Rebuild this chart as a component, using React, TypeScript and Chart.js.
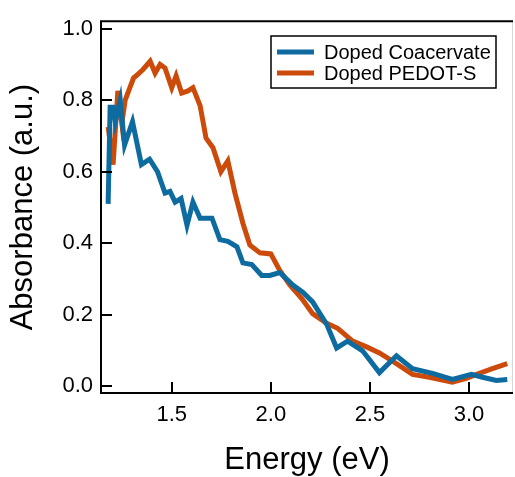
import React, { useEffect, useRef } from "react";
import { Chart, registerables } from "chart.js";

Chart.register(...registerables);

const coacervateE = [1.179, 1.189, 1.205, 1.215, 1.24, 1.262, 1.302, 1.347, 1.388, 1.428, 1.466, 1.491, 1.517, 1.547, 1.577, 1.607, 1.643, 1.703, 1.743, 1.783, 1.829, 1.859, 1.904, 1.954, 1.995, 2.045, 2.111, 2.161, 2.211, 2.282, 2.332, 2.387, 2.463, 2.548, 2.634, 2.715, 2.816, 2.916, 3.012, 3.068, 3.138, 3.193];
const coacervateA = [0.51, 0.78, 0.78, 0.74, 0.8, 0.675, 0.74, 0.62, 0.635, 0.6, 0.54, 0.545, 0.515, 0.525, 0.45, 0.515, 0.47, 0.47, 0.41, 0.405, 0.39, 0.345, 0.34, 0.31, 0.31, 0.318, 0.283, 0.263, 0.236, 0.173, 0.107, 0.126, 0.099, 0.038, 0.085, 0.049, 0.036, 0.019, 0.033, 0.025, 0.016, 0.019];

const pedotE = [1.179, 1.204, 1.228, 1.248, 1.265, 1.307, 1.33, 1.355, 1.391, 1.416, 1.441, 1.466, 1.5, 1.522, 1.55, 1.582, 1.607, 1.643, 1.673, 1.708, 1.748, 1.783, 1.819, 1.859, 1.894, 1.945, 2.0, 2.045, 2.096, 2.156, 2.211, 2.282, 2.337, 2.413, 2.483, 2.548, 2.634, 2.715, 2.8, 2.916, 2.986, 3.052, 3.118, 3.193];
const pedotA = [0.725, 0.62, 0.826, 0.735, 0.8, 0.862, 0.873, 0.886, 0.909, 0.876, 0.9, 0.89, 0.835, 0.868, 0.82, 0.826, 0.835, 0.785, 0.694, 0.667, 0.6, 0.63, 0.54, 0.456, 0.395, 0.373, 0.37, 0.324, 0.283, 0.245, 0.203, 0.176, 0.162, 0.126, 0.11, 0.093, 0.063, 0.033, 0.025, 0.011, 0.022, 0.036, 0.049, 0.063];

const seriesLabels = ["Doped Coacervate", "Doped PEDOT-S"];
const seriesColors = ["#0e6ba0", "#cc4a0a"];
const xTicks = [1.5, 2.0, 2.5, 3.0];
const yTicks = [0.0, 0.2, 0.4, 0.6, 0.8, 1.0];

const FONT = "'Liberation Sans', Arial, Helvetica, sans-serif";

const framePlugin = {
  id: "frame",
  afterDatasetsDraw(chart: any) {
    const { ctx, chartArea } = chart;
    const { left, right, top, bottom } = chartArea;
    const xs = chart.scales.x;
    const ys = chart.scales.y;
    ctx.save();
    ctx.strokeStyle = "#d8d8d8";
    ctx.lineWidth = 1;
    ctx.beginPath();
    ctx.moveTo(right - 0.5, top);
    ctx.lineTo(right - 0.5, bottom);
    ctx.stroke();
    ctx.strokeStyle = "#000";
    ctx.lineWidth = 2;
    ctx.beginPath();
    ctx.moveTo(left, top);
    ctx.lineTo(right, top);
    ctx.moveTo(left, top - 1);
    ctx.lineTo(left, bottom + 1);
    ctx.moveTo(left - 1, bottom);
    ctx.lineTo(right, bottom);
    ctx.stroke();
    ctx.beginPath();
    xTicks.forEach((v) => {
      const px = Math.round(xs.getPixelForValue(v));
      ctx.moveTo(px, bottom);
      ctx.lineTo(px, bottom - 11);
    });
    yTicks.forEach((v) => {
      const py = Math.round(ys.getPixelForValue(v));
      ctx.moveTo(left, py);
      ctx.lineTo(left + 11, py);
    });
    ctx.stroke();
    const bx = 271, by = 36, bw = 225, bh = 52;
    ctx.fillStyle = "#fff";
    ctx.fillRect(bx, by, bw, bh);
    ctx.lineWidth = 1.5;
    ctx.strokeRect(bx, by, bw, bh);
    ctx.font = `20px ${FONT}`;
    ctx.textBaseline = "middle";
    ctx.textAlign = "left";
    chart.data.datasets.forEach((ds: any, i: number) => {
      const ly = by + 16 + i * 21;
      ctx.strokeStyle = ds.borderColor;
      ctx.lineWidth = 5;
      ctx.beginPath();
      ctx.moveTo(bx + 6, ly);
      ctx.lineTo(bx + 43, ly);
      ctx.stroke();
      ctx.fillStyle = "#000";
      ctx.fillText(ds.label, bx + 53, ly + 1);
    });
    ctx.restore();
  },
};

export default function App() {
  const ref = useRef<HTMLCanvasElement | null>(null);
  useEffect(() => {
    if (!ref.current) return;
    Chart.defaults.font.family = FONT;
    Chart.defaults.color = "#000";
    const chart = new Chart(ref.current, {
      type: "line",
      data: {
        datasets: [
          {
            label: seriesLabels[0],
            data: coacervateE.map((x, i) => ({ x, y: coacervateA[i] })),
            borderColor: seriesColors[0],
            backgroundColor: seriesColors[0],
            borderWidth: 5,
            pointRadius: 0,
            tension: 0,
          },
          {
            label: seriesLabels[1],
            data: pedotE.map((x, i) => ({ x, y: pedotA[i] })),
            borderColor: seriesColors[1],
            backgroundColor: seriesColors[1],
            borderWidth: 5,
            pointRadius: 0,
            tension: 0,
          },
        ],
      },
      options: {
        animation: false,
        responsive: false,
        layout: { padding: { top: 14, right: 2, left: 0, bottom: 0 } },
        plugins: { legend: { display: false }, tooltip: { enabled: false } },
        scales: {
          x: {
            type: "linear",
            min: 1.143,
            max: 3.222,
            afterFit: (s: any) => { s.height = 84; },
            afterBuildTicks: (s: any) => { s.ticks = xTicks.map((v) => ({ value: v })); },
            grid: { display: false, drawTicks: false },
            border: { display: false },
            ticks: {
              font: { size: 22 },
              padding: 9,
              color: "#000",
              maxRotation: 0,
              callback: (v: any) => Number(v).toFixed(1),
            },
            title: {
              display: true,
              text: "Energy (eV)",
              font: { size: 31, lineHeight: 1.05 },
              color: "#000",
              padding: { top: 0, bottom: 0 },
            },
          },
          y: {
            type: "linear",
            min: -0.019,
            max: 1.021,
            afterFit: (s: any) => { s.width = 101; },
            afterBuildTicks: (s: any) => { s.ticks = yTicks.map((v) => ({ value: v })); },
            grid: { display: false, drawTicks: false },
            border: { display: false },
            ticks: {
              font: { size: 22 },
              padding: 8,
              color: "#000",
              callback: (v: any) => Number(v).toFixed(1),
            },
            title: {
              display: true,
              text: "Absorbance (a.u.)",
              font: { size: 31 },
              color: "#000",
              padding: { top: 5, bottom: 0 },
            },
          },
        },
      },
      plugins: [framePlugin],
    });
    return () => chart.destroy();
  }, []);
  return (
    <div style={{ position: "absolute", left: 0, top: 0, width: 515, height: 477 }}>
      <canvas ref={ref} width={515} height={477} style={{ display: "block" }} />
    </div>
  );
}
